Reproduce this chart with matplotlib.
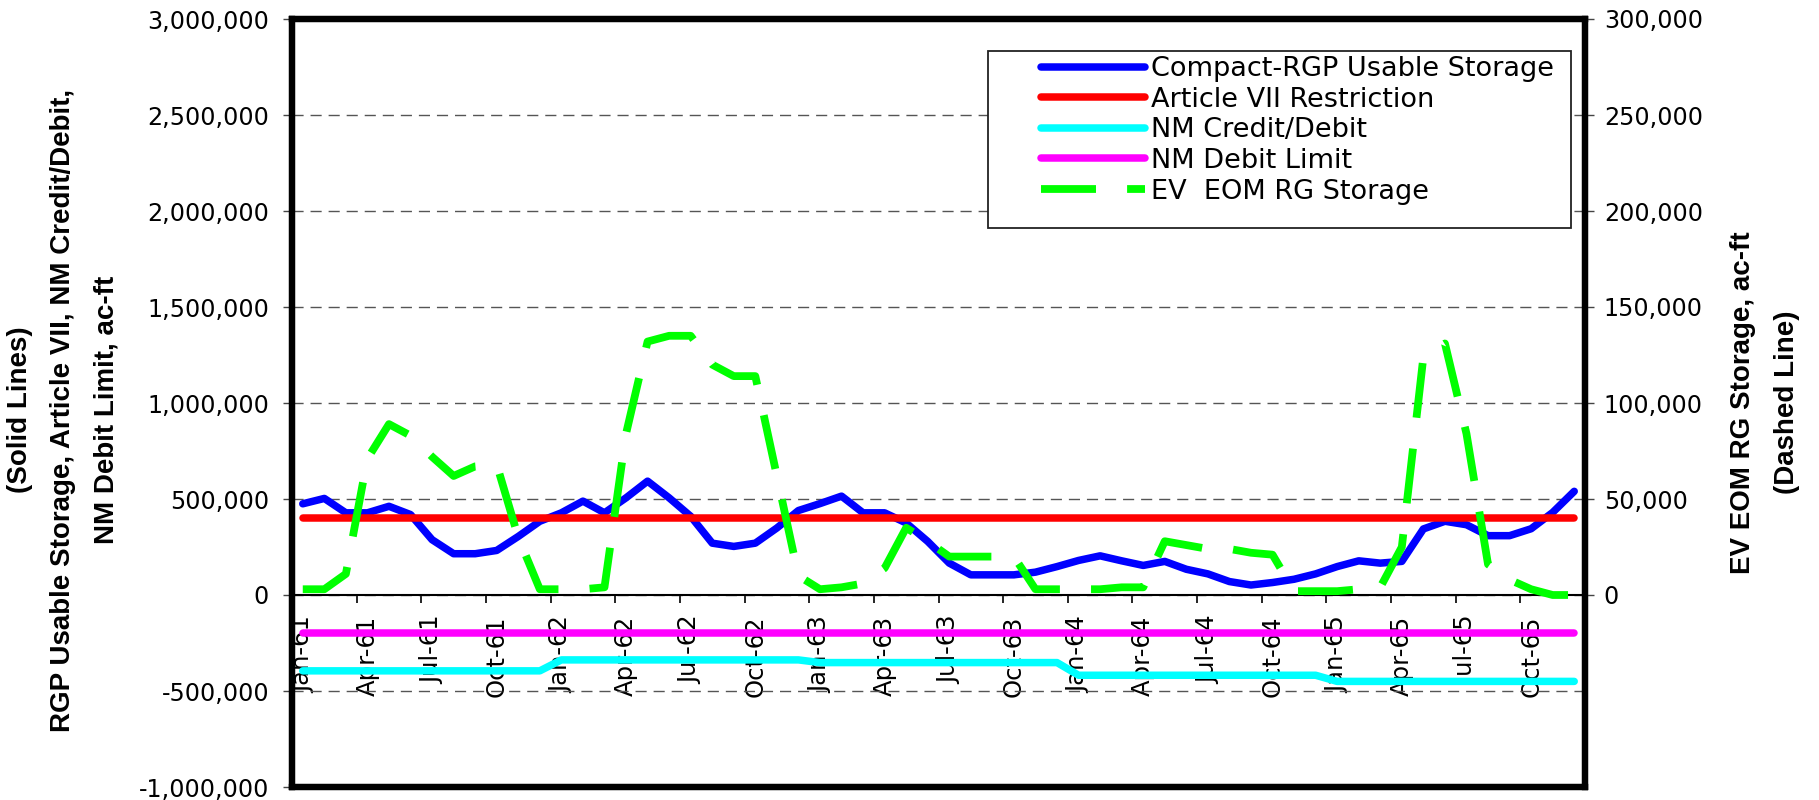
import numpy as np
import matplotlib
matplotlib.use("Agg")
import matplotlib.pyplot as plt
from matplotlib.lines import Line2D
from matplotlib.patches import Rectangle
from matplotlib.legend_handler import HandlerLine2D
from matplotlib.ticker import FuncFormatter

# monthly values Jan-61 .. Dec-65
tick_labels = ["Jan-61", "Apr-61", "Jul-61", "Oct-61",
               "Jan-62", "Apr-62", "Jul-62", "Oct-62",
               "Jan-63", "Apr-63", "Jul-63", "Oct-63",
               "Jan-64", "Apr-64", "Jul-64", "Oct-64",
               "Jan-65", "Apr-65", "Jul-65", "Oct-65"]

rgp_storage = [475000, 503000, 428000, 428000, 462000, 419000, 288000, 215000, 215000, 232000, 305000, 384000,
               428000, 489000, 428000, 506000, 593000, 506000, 410000, 270000, 253000, 270000, 349000, 440000,
               476000, 515000, 428000, 428000, 375000, 279000, 166000, 105000, 105000, 105000, 119000, 148000,
               180000, 204000, 178000, 154000, 175000, 134000, 110000, 70000, 52000, 65000, 82000, 110000,
               148000, 178000, 166000, 175000, 344000, 384000, 366000, 309000, 309000, 345000, 430000, 540000]

article_vii = [400000, 400000, 400000, 400000, 400000, 400000, 400000, 400000, 400000, 400000, 400000, 400000,
               400000, 400000, 400000, 400000, 400000, 400000, 400000, 400000, 400000, 400000, 400000, 400000,
               400000, 400000, 400000, 400000, 400000, 400000, 400000, 400000, 400000, 400000, 400000, 400000,
               400000, 400000, 400000, 400000, 400000, 400000, 400000, 400000, 400000, 400000, 400000, 400000,
               400000, 400000, 400000, 400000, 400000, 400000, 400000, 400000, 400000, 400000, 400000, 400000]

nm_credit = [-395000, -395000, -395000, -395000, -395000, -395000, -395000, -395000, -395000, -395000, -395000, -395000,
             -338000, -338000, -338000, -338000, -338000, -338000, -338000, -338000, -338000, -338000, -338000, -338000,
             -352000, -352000, -352000, -352000, -352000, -352000, -352000, -352000, -352000, -352000, -352000, -352000,
             -418000, -418000, -418000, -418000, -418000, -418000, -418000, -418000, -418000, -418000, -418000, -418000,
             -450000, -450000, -450000, -450000, -450000, -450000, -450000, -450000, -450000, -450000, -450000, -450000]

nm_debit_limit = [-200000, -200000, -200000, -200000, -200000, -200000, -200000, -200000, -200000, -200000, -200000, -200000,
                  -200000, -200000, -200000, -200000, -200000, -200000, -200000, -200000, -200000, -200000, -200000, -200000,
                  -200000, -200000, -200000, -200000, -200000, -200000, -200000, -200000, -200000, -200000, -200000, -200000,
                  -200000, -200000, -200000, -200000, -200000, -200000, -200000, -200000, -200000, -200000, -200000, -200000,
                  -200000, -200000, -200000, -200000, -200000, -200000, -200000, -200000, -200000, -200000, -200000, -200000]

ev_storage = [3000, 3000, 11000, 71000, 89000, 83000, 72000, 62000, 67000, 68000, 30000, 3000,
              3000, 3000, 4000, 84000, 132000, 135000, 135000, 120000, 114000, 114000, 62000, 10000,
              3000, 4000, 6000, 14000, 35000, 28000, 20000, 20000, 20000, 20000, 3000, 3000,
              3000, 3000, 4000, 4000, 28000, 26000, 24000, 24000, 22000, 21000, 2000, 2000,
              2000, 3000, 4000, 25000, 124000, 131000, 84000, 16000, 8000, 3000, 0, 0]

x = np.arange(len(rgp_storage))

plt.rcParams["font.family"] = ["DejaVu Sans"]
LW = 5.4
GREEN_DASH = (7.07, 4.0)
W, H = 1819, 800

fig = plt.figure(figsize=(W / 100, H / 100), dpi=100)
ax = fig.add_axes([292 / W, 13 / H, 1293 / W, 768 / H])

ax.plot(x, rgp_storage, color="#0000ff", lw=LW, solid_capstyle="round", zorder=3)
ax.plot(x, article_vii, color="#ff0000", lw=LW, solid_capstyle="round", zorder=4)
ax.plot(x, nm_credit, color="#00ffff", lw=LW, solid_capstyle="round", zorder=3)
ax.plot(x, nm_debit_limit, color="#ff00ff", lw=LW, solid_capstyle="round", zorder=3)
ax.axhline(0, color="black", lw=1.5, zorder=2)

ax.set_xlim(-0.5, len(x) - 0.5)
ax.set_ylim(-1000000, 3000000)
ax.set_yticks(np.arange(-1000000, 3000001, 500000))
ax.yaxis.set_major_formatter(FuncFormatter(lambda v, p: f"{v:,.0f}"))
ax.tick_params(axis="y", length=6.5, width=1, color="#444444", labelsize=17.2, pad=10)
ax.yaxis.grid(True, ls=(0, (8, 5)), color="#555555", lw=1)
ax.set_xticks([])
for s in ax.spines.values():
    s.set_linewidth(4.5)

# category axis sitting on the zero line: ticks between months, labels on months
sec = ax.secondary_xaxis(0.25)
sec.spines["bottom"].set_visible(False)
sec.set_xticks(np.arange(0, len(x), 3) - 0.5)
sec.set_xticklabels([])
sec.set_xticks(np.arange(0, len(x), 3), labels=tick_labels, minor=True)
sec.tick_params(which="major", length=6, width=1.2, color="black")
sec.tick_params(which="minor", length=0, labelsize=17.5, pad=15)
for lbl in sec.get_xticklabels(minor=True):
    lbl.set_rotation(90)
    lbl.set_va("top")
    lbl.set_ha("center")

ax2 = ax.twinx()
ax2.plot(x, ev_storage, color="#00ff00", lw=5.6, dashes=GREEN_DASH, dash_capstyle="butt")
ax2.set_ylim(-100000, 300000)
ax2.set_yticks(np.arange(0, 300001, 50000))
ax2.yaxis.set_major_formatter(FuncFormatter(lambda v, p: f"{v:,.0f}"))
ax2.tick_params(axis="y", length=6.5, width=1, color="#444444", labelsize=17.2, pad=7)
for s in ax2.spines.values():
    s.set_linewidth(4.5)

# legend box (Excel style, more room at the bottom)
box = Rectangle((988 / W, 1 - 228 / H), 583 / W, 177 / H, transform=fig.transFigure,
                facecolor="white", edgecolor="#222222", lw=1.3, clip_on=False, zorder=4.9)
ax2.add_patch(box)

handles = [Line2D([], [], color="#0000ff", lw=LW, solid_capstyle="round"),
           Line2D([], [], color="#ff0000", lw=LW, solid_capstyle="round"),
           Line2D([], [], color="#00ffff", lw=LW, solid_capstyle="round"),
           Line2D([], [], color="#ff00ff", lw=LW, solid_capstyle="round"),
           Line2D([], [], color="#00ff00", lw=5.6, dashes=GREEN_DASH, dash_capstyle="butt")]
names = ["Compact-RGP Usable Storage", "Article VII Restriction", "NM Credit/Debit",
         "NM Debit Limit", "EV  EOM RG Storage"]
leg = ax2.legend(handles, names, loc="upper left", bbox_to_anchor=(988 / W, 1 - 48 / H),
                 bbox_transform=fig.transFigure, borderaxespad=0, fontsize=19.5,
                 handlelength=5.5, handletextpad=0.2, labelspacing=0.17, borderpad=0.3,
                 frameon=False, handler_map={Line2D: HandlerLine2D(xpad=1.65)})
leg.set_zorder(5)

fig.text(63 / W, 0.4875, "(Solid Lines)\nRGP Usable Storage, Article VII, NM Credit/Debit,\nNM Debit Limit, ac-ft",
         rotation=90, ha="center", va="center", multialignment="center", linespacing=1.85,
         fontweight="bold", fontsize=20, family="Liberation Sans")
fig.text(1765 / W, 0.497, "EV EOM RG Storage, ac-ft\n(Dashed Line)",
         rotation=90, ha="center", va="center", multialignment="center", linespacing=1.9,
         fontweight="bold", fontsize=20, family="Liberation Sans")

fig.savefig("out.png", dpi=100)
